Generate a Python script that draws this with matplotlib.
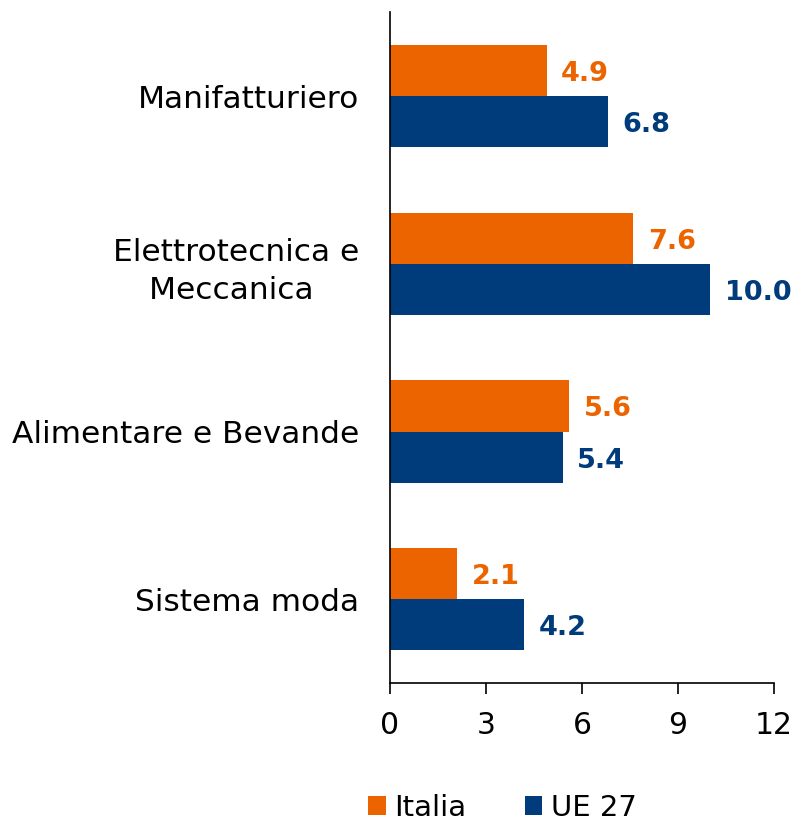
import numpy as np
import matplotlib.pyplot as plt

plt.rcParams['font.family'] = ['DejaVu Sans']

categorie = ["Manifatturiero", "Elettrotecnica e\nMeccanica ", "Alimentare e Bevande", "Sistema moda"]
italia = [4.9, 7.6, 5.6, 2.1]
ue27 = [6.8, 10.0, 5.4, 4.2]
xticks = [0, 3, 6, 9, 12]

arancio = '#EB6400'
blu = '#003B7B'

fig = plt.figure(figsize=(7.94, 8.26), dpi=100)
ax = fig.add_axes([0.491, 0.173, 0.484, 0.812])

y = np.arange(len(categorie))
h = 0.305
b1 = ax.barh(y - h / 2, italia, height=h, color=arancio, label='Italia')
b2 = ax.barh(y + h / 2, ue27, height=h, color=blu, label='UE 27')

for bars, vals, col in [(b1, italia, arancio), (b2, ue27, blu)]:
    for bar, v in zip(bars, vals):
        ax.text(bar.get_width() + 0.45, bar.get_y() + bar.get_height() / 2 + 0.02, f"{v:.1f}",
                va='center', ha='left', color=col, fontsize=19.5, fontweight='bold')

ax.set_xlim(0, 12)
ax.set_ylim(3.5, -0.5)
ax.set_xticks(xticks)
ax.set_xticklabels([str(t) for t in xticks], fontsize=21.5)
ax.set_yticks(y)
ax.set_yticklabels(categorie, fontsize=22.5, multialignment='center', linespacing=1.4)
ax.tick_params(axis='y', length=0, pad=22)
ax.tick_params(axis='x', length=8, width=1.2, pad=12, direction='out')
for s in ['top', 'right']:
    ax.spines[s].set_visible(False)
for s in ['left', 'bottom']:
    ax.spines[s].set_linewidth(1.2)

fig.legend(handles=[b1, b2], loc='center', bbox_to_anchor=(0.633, 0.022), ncol=2,
           frameon=False, fontsize=21, handlelength=0.6, handleheight=0.6,
           handletextpad=0.3, columnspacing=2.0, borderpad=0.1)

fig.savefig('out.png', dpi=100)
